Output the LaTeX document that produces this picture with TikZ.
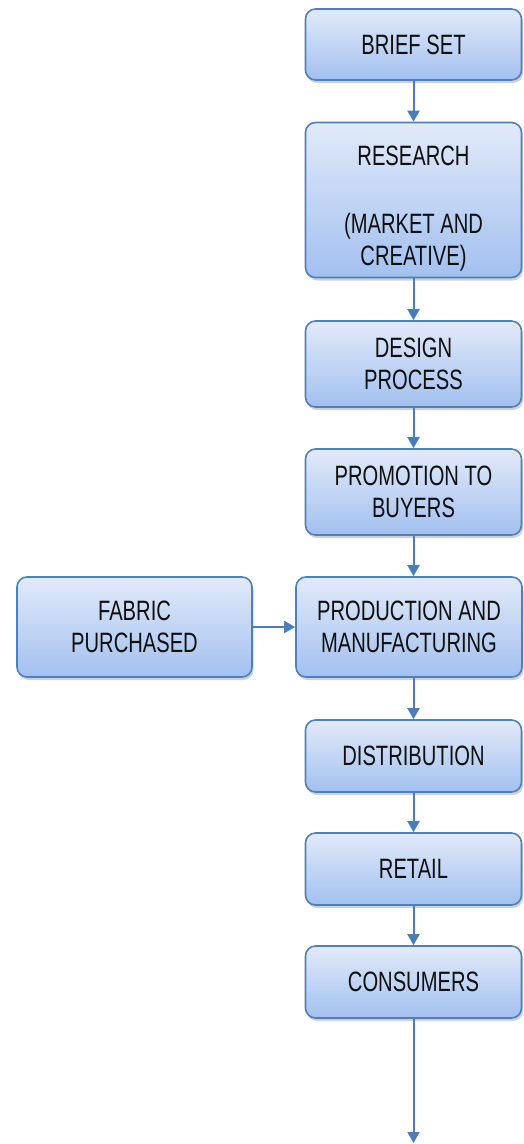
\documentclass[tikz,border=0pt]{standalone}
\usepackage{fontspec}
\newfontfamily\boxfont{Liberation Sans}[FakeStretch=0.72]
\usetikzlibrary{arrows.meta,shadows}
\definecolor{bordc}{HTML}{5080BC}
\definecolor{topc}{HTML}{E2EAF9}
\definecolor{botc}{HTML}{A2C0F0}
\definecolor{arrc}{HTML}{4A7EBB}
\definecolor{txtc}{HTML}{101010}
\tikzset{
  box/.style={draw=bordc, line width=1.6pt, rounded corners=10pt,
    top color=topc, bottom color=botc, align=center, text=txtc,
    font=\boxfont\fontsize{28}{32}\selectfont, inner sep=0pt,
    drop shadow={shadow xshift=1.5pt, shadow yshift=-3pt, opacity=0.3, fill=black!60}},
  conn/.style={draw=arrc, line width=2pt, -{Triangle[width=12pt,length=11pt]}}
}
\begin{document}
\begin{tikzpicture}[x=1pt,y=1pt]
\useasboundingbox (0,0) rectangle (523,-1144);
\node[box, minimum width=216pt, minimum height=71pt] (brief) at (413.5,-44.5) {BRIEF SET};
\node[box, minimum width=216pt, minimum height=155pt] (research) at (413.5,-200) {\mbox{}\\[4pt]RESEARCH\\[36pt](MARKET AND\\CREATIVE)};
\node[box, minimum width=216pt, minimum height=86pt] (design) at (413.5,-364) {DESIGN\\PROCESS};
\node[box, minimum width=216pt, minimum height=86pt] (promo) at (413.5,-492) {PROMOTION TO\\BUYERS};
\node[box, minimum width=226pt, minimum height=100pt] (prod) at (409,-627) {PRODUCTION AND\\MANUFACTURING};
\node[box, minimum width=235pt, minimum height=100pt] (fabric) at (134.5,-627) {FABRIC\\PURCHASED};
\node[box, minimum width=216pt, minimum height=72pt] (dist) at (413.5,-756) {DISTRIBUTION};
\node[box, minimum width=216pt, minimum height=72pt] (retail) at (413.5,-869) {RETAIL};
\node[box, minimum width=216pt, minimum height=72pt] (cons) at (413.5,-982) {CONSUMERS};
\coordinate (end) at (413.5,-1143);
\draw[conn] (brief) -- (research);
\draw[conn] (research) -- (design);
\draw[conn] (design) -- (promo);
\draw[conn] (promo.south) -- (promo.south |- prod.north);
\draw[conn] (fabric) -- (prod);
\draw[conn] (dist.north |- prod.south) -- (dist.north);
\draw[conn] (dist) -- (retail);
\draw[conn] (retail) -- (cons);
\draw[conn] (cons) -- (end);
\end{tikzpicture}
\end{document}
